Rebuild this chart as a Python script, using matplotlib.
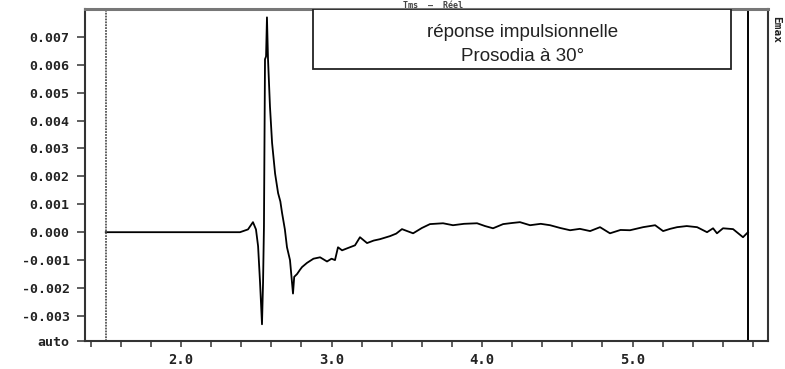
import matplotlib
matplotlib.use("Agg")
import matplotlib.pyplot as plt
from matplotlib.patches import Rectangle
from matplotlib.ticker import MultipleLocator, FixedLocator

# time axis (ms) and impulse response values
t = [1.50, 2.392, 2.445, 2.478, 2.498, 2.512, 2.525, 2.538, 2.545, 2.551, 2.558,
     2.565, 2.571, 2.578, 2.591, 2.605, 2.625, 2.645, 2.660, 2.671, 2.690, 2.704,
     2.724, 2.744, 2.752, 2.771, 2.790, 2.804, 2.837, 2.880, 2.924, 2.970, 3.000,
     3.023, 3.043, 3.070, 3.103, 3.156, 3.189, 3.236, 3.280, 3.322, 3.389, 3.430,
     3.468, 3.542, 3.600, 3.654, 3.741, 3.807, 3.880, 3.967, 4.020, 4.073, 4.140,
     4.200, 4.252, 4.319, 4.390, 4.452, 4.520, 4.585, 4.650, 4.718, 4.784, 4.850,
     4.920, 4.983, 5.070, 5.150, 5.203, 5.250, 5.296, 5.360, 5.429, 5.495, 5.535,
     5.561, 5.601, 5.668, 5.734, 5.767]
resp = [0.00000, 0.00000, 0.00010, 0.00036, 0.00010, -0.00050, -0.00180, -0.00330,
        -0.00180, 0.00020, 0.00620, 0.00630, 0.00770, 0.00620, 0.00450, 0.00320,
        0.00210, 0.00140, 0.00110, 0.00070, 0.00010, -0.00054, -0.00100, -0.00220,
        -0.00160, -0.00150, -0.00135, -0.00125, -0.00110, -0.00095, -0.00090,
        -0.00105, -0.00095, -0.00100, -0.00054, -0.00065, -0.00058, -0.00047,
        -0.00018, -0.00039, -0.00030, -0.00025, -0.00014, -0.00005, 0.00011,
        -0.00004, 0.00015, 0.00029, 0.00032, 0.00025, 0.00030, 0.00032, 0.00022,
        0.00014, 0.00029, 0.00033, 0.00036, 0.00025, 0.00030, 0.00025, 0.00015,
        0.00007, 0.00012, 0.00004, 0.00018, -0.00004, 0.00008, 0.00007, 0.00018,
        0.00025, 0.00004, 0.00012, 0.00018, 0.00022, 0.00018, 0.00000, 0.00014,
        -0.00004, 0.00014, 0.00011, -0.00018, 0.00000]

ytick_vals = [-0.0039, -0.003, -0.002, -0.001, 0.000, 0.001, 0.002, 0.003, 0.004,
              0.005, 0.006, 0.007]
ytick_labels = ["auto", "-0.003", "-0.002", "-0.001", "0.000", "0.001", "0.002",
                "0.003", "0.004", "0.005", "0.006", "0.007"]
xtick_vals = [2.0, 3.0, 4.0, 5.0]
xtick_labels = ["2.0", "3.0", "4.0", "5.0"]
cursors = [1.5, 5.767]
box_lines = ["réponse impulsionnelle", "Prosodia à 30°"]

fig = plt.figure(figsize=(7.85, 3.69), dpi=100)
ax = fig.add_axes([85 / 785, 28 / 369, 683 / 785, 332 / 369])
ax.set_xlim(1.362, 5.90)
ax.set_ylim(-0.0039, 0.0080)

ax.plot(t, resp, color="black", lw=1.3)

ax.axvline(cursors[0], color="#555555", lw=1.3, ls=(0, (1, 0.6)))
ax.axvline(cursors[1], color="black", lw=1.4)

for s in ax.spines.values():
    s.set_color("#333333")
    s.set_linewidth(1.5)
ax.spines["top"].set_color("#777777")
ax.spines["top"].set_linewidth(2.2)

ax.yaxis.set_major_locator(FixedLocator(ytick_vals))
ax.set_yticklabels(ytick_labels, family="DejaVu Sans Mono", fontweight="bold",
                   fontsize=9.5, color="#222222")
ax.xaxis.set_major_locator(FixedLocator(xtick_vals))
ax.set_xticklabels(xtick_labels, family="DejaVu Sans Mono", fontweight="bold",
                   fontsize=10, color="#222222")
ax.xaxis.set_minor_locator(MultipleLocator(0.2))
ax.tick_params(axis="y", direction="out", length=6, width=1.1, pad=5, color="#333333")
ax.tick_params(axis="x", which="both", direction="out", length=4, width=1.1, pad=5,
               color="#333333")

rect = Rectangle((0.334, 0.819), 0.612, 0.181, transform=ax.transAxes,
                 facecolor="white", edgecolor="#222222", lw=1.3, zorder=5)
ax.add_patch(rect)
ax.text(0.640, 0.928, box_lines[0], transform=ax.transAxes, ha="center",
        va="center", fontsize=13.5, family="Liberation Sans", color="#222222", zorder=6)
ax.text(0.640, 0.858, box_lines[1], transform=ax.transAxes, ha="center",
        va="center", fontsize=13.5, family="Liberation Sans", color="#222222", zorder=6)

fig.text(433 / 785, 1.0 - 1 / 369, "Tms  —  Réel", ha="center", va="top", fontsize=6,
         family="DejaVu Sans Mono", fontweight="bold", color="#444444")
fig.text(776 / 785, 1 - 30 / 369, "Emax", rotation=270, ha="center", va="center",
         fontsize=8, family="DejaVu Sans Mono", fontweight="bold", color="#222222")

fig.savefig("out.png", dpi=100, facecolor="white")
